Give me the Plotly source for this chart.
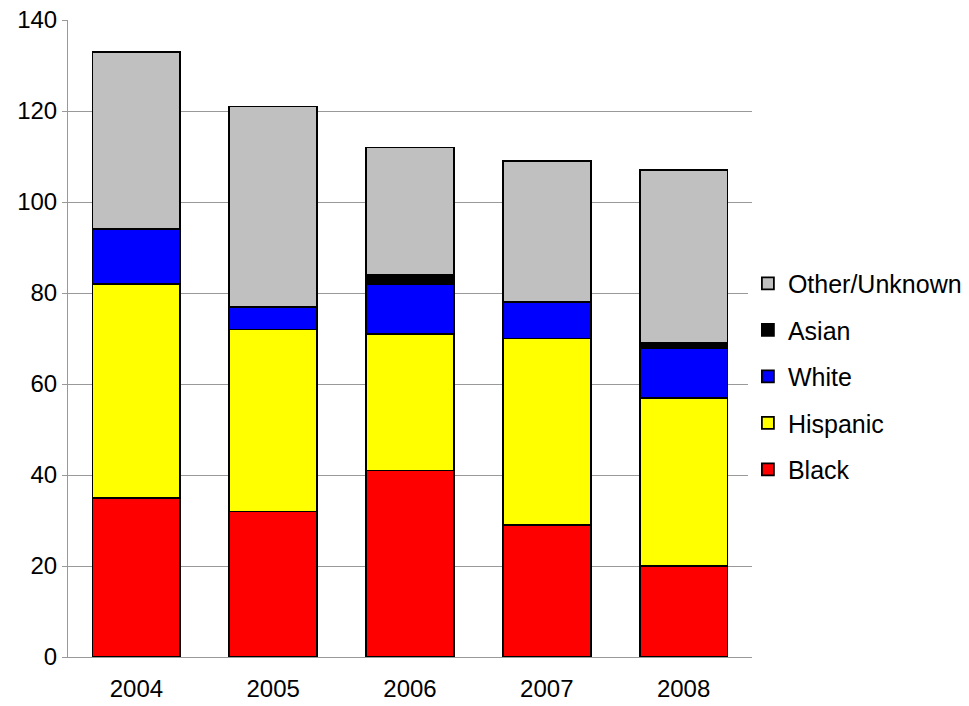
import plotly.graph_objects as go

years = ["2004", "2005", "2006", "2007", "2008"]
black = [35, 32, 41, 29, 20]
hispanic = [47, 40, 30, 41, 37]
white = [12, 5, 11, 8, 11]
asian = [0, 0, 2, 0, 1]
other = [39, 44, 28, 31, 38]

series = [
    ("Black", black, "#FF0000"),
    ("Hispanic", hispanic, "#FFFF00"),
    ("White", white, "#0000FF"),
    ("Asian", asian, "#000000"),
    ("Other/Unknown", other, "#C0C0C0"),
]

fig = go.Figure()
n = len(series)
for i, (name, vals, col) in enumerate(series):
    fig.add_trace(go.Bar(
        x=years, y=vals, name=name, legendgroup=name, legendrank=n - i,
        marker=dict(color=col, line=dict(color="#000000", width=1.8)),
    ))

fig.update_layout(
    barmode="stack",
    bargap=0.357,
    width=969, height=706,
    margin=dict(l=68, r=217, t=20, b=49, autoexpand=False),
    plot_bgcolor="white", paper_bgcolor="white",
    font=dict(family="Liberation Sans, Arial, sans-serif", size=24, color="#000000"),
    legend=dict(
        x=0.994, xanchor="left", y=0.44, yanchor="middle",
        traceorder="grouped", tracegroupgap=11,
        font=dict(size=25), itemwidth=30,
    ),
    xaxis=dict(
        showline=True, linecolor="#999999", linewidth=1,
        ticks="", tickfont=dict(size=24), automargin=False,
        ticklabelstandoff=10,
    ),
    yaxis=dict(
        range=[0, 140.02], dtick=20,
        showgrid=True, gridcolor="#999999", gridwidth=1,
        showline=True, linecolor="#999999", linewidth=1,
        ticks="outside", ticklen=5, tickcolor="#999999",
        tickfont=dict(size=24), zeroline=False, automargin=False,
        ticklabeloverflow="allow",
    ),
)

fig.write_html(
    "out.html",
    config={"displayModeBar": False},
    post_script="document.body.style.margin='0';document.body.style.overflow='hidden';",
)
